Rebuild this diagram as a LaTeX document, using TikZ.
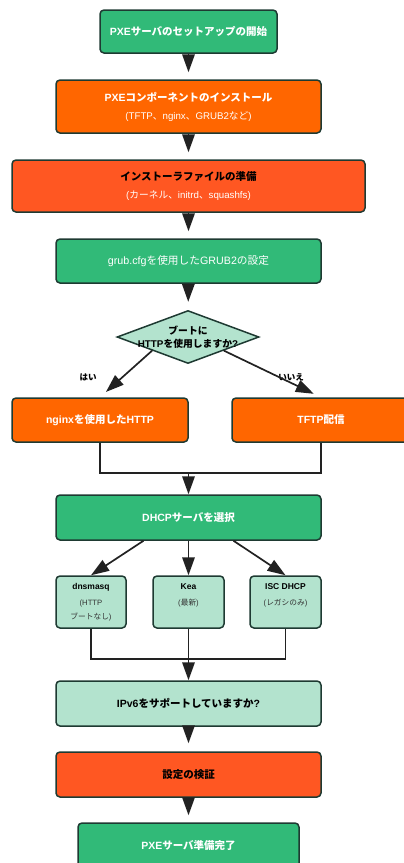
\documentclass[tikz,border=0pt]{standalone}
\usepackage{fontspec}
\setmainfont{Liberation Sans}
\newfontfamily\cjkfam{Noto Sans CJK JP}
\newcommand{\jp}[1]{{\cjkfam #1}}
\usetikzlibrary{shapes.geometric,arrows.meta,calc}
\definecolor{cgreen}{HTML}{31BA78}
\definecolor{corange}{HTML}{FF6600}
\definecolor{cred}{HTML}{FF5722}
\definecolor{clight}{HTML}{B3E3CE}
\definecolor{cborder}{HTML}{1E3A32}
\definecolor{cline}{HTML}{222222}
\definecolor{csub}{HTML}{333333}
\tikzset{
  box/.style={draw=cborder, line width=1.5pt, rounded corners=4pt, align=center, inner sep=0pt},
  flow/.style={draw=cline, line width=1.7pt, -{Triangle[length=18pt,width=12.5pt]}},
  plain/.style={draw=cline, line width=1.7pt},
}
\newcommand{\ttlf}{\bfseries\fontsize{10.5}{12}\selectfont}
\newcommand{\subf}{\mdseries\fontsize{9.7}{11}\selectfont}
\newcommand{\smt}{\bfseries\fontsize{8.5}{10}\selectfont}
\newcommand{\sms}{\mdseries\color{csub}\fontsize{7.7}{9}\selectfont}
\begin{document}
\begin{tikzpicture}[x=1pt,y=-1pt]
\useasboundingbox (0,0) rectangle (404,863);
\clip (0,0) rectangle (404,863);
\node[box, fill=cgreen, minimum width=177pt, minimum height=43pt, text=white, font=\ttlf] (b1) at (188.5,31.5) {PXE\jp{サーバのセットアップの開始}};
\node[box, fill=corange, minimum width=265pt, minimum height=53pt, text=white] (b2) at (188.5,106.5) {\ttlf PXE\jp{コンポーネントのインストール}\\[6pt]\subf (TFTP\jp{、}nginx\jp{、}GRUB2\jp{など})};
\node[box, fill=cred, minimum width=353pt, minimum height=52pt] (b3) at (188.5,186) {\ttlf \jp{インストーラファイルの準備}\\[6pt]\color{white}\subf (\jp{カーネル、}initrd\jp{、}squashfs)};
\node[box, fill=cgreen, minimum width=265pt, minimum height=44pt, text=white, font=\fontsize{10.7}{12}\selectfont] (b4) at (188.5,261) {grub.cfg\jp{を使用した}GRUB2\jp{の設定}};
\node[diamond, draw=cborder, line width=1.5pt, fill=clight, minimum width=142pt, minimum height=53pt, inner sep=0pt] (dec) at (188,337) {};
\node[align=center, font=\bfseries\fontsize{9.8}{13}\selectfont, inner sep=0pt] (dect) at (dec) {\jp{ブートに}\\HTTP\jp{を使用しますか}?};
\node[box, fill=corange, minimum width=176pt, minimum height=44pt, text=white, font=\ttlf] (b5) at (100,420) {nginx\jp{を使用した}HTTP};
\node[box, fill=corange, minimum width=178pt, minimum height=44pt, text=white, font=\ttlf] (b6) at (321,420) {TFTP\jp{配信}};
\node[font=\bfseries\fontsize{8.5}{10}\selectfont, inner sep=0pt] (yes) at (88,377) {\jp{はい}};
\node[font=\bfseries\fontsize{8.5}{10}\selectfont, inner sep=0pt] (no) at (291,377) {\jp{いいえ}};
\node[box, fill=cgreen, minimum width=265pt, minimum height=45pt, text=white, font=\ttlf] (dhcp) at (188.5,517.5) {DHCP\jp{サーバを選択}};
\node[box, fill=clight, minimum width=70pt, minimum height=52pt] (dns) at (91,602) {\smt dnsmasq\\[4pt]\sms (HTTP\\[2pt]\sms \jp{ブートなし})};
\node[box, fill=clight, minimum width=71pt, minimum height=52pt] (kea) at (188.5,602) {\smt Kea\\[4pt]\sms (\jp{最新})\\[2pt]\sms ~};
\node[box, fill=clight, minimum width=71pt, minimum height=52pt] (isc) at (285.5,602) {\smt ISC DHCP\\[4pt]\sms (\jp{レガシのみ})\\[2pt]\sms ~};
\node[box, fill=clight, minimum width=265pt, minimum height=45pt, font=\ttlf] (ipv6) at (188.5,703.5) {IPv6\jp{をサポートしていますか}?};
\node[box, fill=cred, minimum width=265pt, minimum height=45pt, font=\ttlf] (ver) at (188.5,774.5) {\jp{設定の検証}};
\node[box, fill=cgreen, minimum width=221pt, minimum height=45pt, text=white, font=\ttlf] (fin) at (188.5,845.5) {PXE\jp{サーバ準備完了}};
\coordinate (j1) at (188.5,473);
\coordinate (j2) at (188.5,659);
% connectors
\draw[flow, shorten >=7pt] (b1) -- (b2);
\draw[flow, shorten >=7pt] (b2) -- (b3);
\draw[flow, shorten >=7pt] (b3) -- (b4);
\draw[flow, shorten >=8pt] (b4) -- (dec);
\draw[flow, shorten >=8pt] (dec.south west) -- (b5.north);
\draw[flow, shorten >=8pt] (dec.south east) -- (b6.north);
\draw[plain] (b5.south) |- (j1) -| (b6.south);
\draw[flow] (j1) -- (dhcp.north);
\draw[flow] ($(dhcp.south)+(-45,0)$) -- (dns.north);
\draw[flow] (dhcp.south) -- (kea.north);
\draw[flow] ($(dhcp.south)+(45,0)$) -- (isc.north);
\draw[plain] (dns.south) |- (j2) -| (isc.south);
\draw[flow] (kea.south) -- (ipv6.north);
\draw[flow, shorten >=8pt] (ipv6) -- (ver);
\draw[flow, shorten >=7pt] (ver) -- (fin);
\end{tikzpicture}
\end{document}
